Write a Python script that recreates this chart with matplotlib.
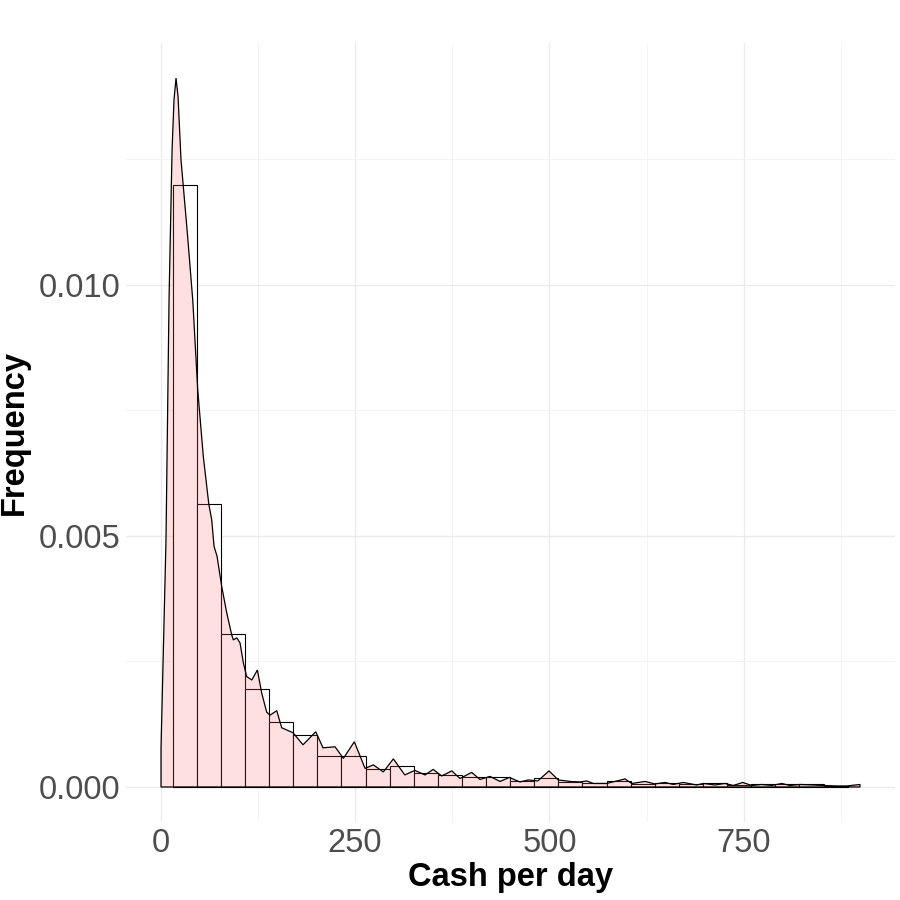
import numpy as np
import matplotlib
matplotlib.use("Agg")
import matplotlib.pyplot as plt

# histogram bins (cash per day) and their density heights
bin_edges = [15.5, 46.5, 77.5, 108.5, 139.5, 170.5, 201.5, 232.5, 263.5, 294.5,
             325.5, 356.5, 387.5, 418.5, 449.5, 480.5, 511.5, 542.5, 573.5, 604.5,
             635.5, 666.5, 697.5, 728.5, 759.5, 790.5, 821.5, 852.5, 883.5]
bin_heights = [0.01199, 0.00564, 0.00305, 0.00195, 0.00130, 0.00103, 0.00061,
               0.00062, 0.00035, 0.00042, 0.00027, 0.00023, 0.00019, 0.00019,
               0.00011, 0.00017, 0.00009, 0.00007, 0.00012, 0.00006, 0.00007,
               0.00005, 0.00007, 0.00004, 0.00005, 0.00005, 0.00005, 0.00002]

# kernel density curve
dens_x = [0.5, 6.9, 10.8, 14.7, 17.2, 19.8, 22.4, 26.2, 34.0, 41.3, 47.7, 54.9,
          61.9, 65.7, 68.7, 72.5, 78.6, 85.0, 91.4, 93.5, 97.9, 102.1, 106.4,
          110.7, 117.2, 124.4, 130.0, 136.4, 140.7, 149.3, 155.7, 170.3, 183.1,
          199.5, 208.8, 224.3, 235.0, 249.1, 262.9, 273.5, 286.4, 299.3, 314.0,
          327.0, 340.0, 350.5, 361.5, 374.4, 385.0, 400.0, 410.7, 423.6, 436.5,
          448.4, 462.0, 473.0, 485.0, 499.5, 511.4, 526.6, 539.4, 548.0, 556.5,
          573.7, 597.2, 605.8, 623.0, 635.8, 648.6, 659.3, 672.2, 689.4, 697.9,
          712.9, 725.7, 736.5, 748.6, 760.2, 773.0, 785.9, 798.7, 809.4, 822.3,
          839.4, 852.2, 869.5, 882.3, 899.4]
dens_y = [0.00078, 0.00492, 0.00970, 0.01269, 0.01369, 0.01412, 0.01375, 0.01249,
          0.01110, 0.00970, 0.00791, 0.00658, 0.00564, 0.00532, 0.00479, 0.00460,
          0.00399, 0.00347, 0.00303, 0.00293, 0.00297, 0.00287, 0.00247, 0.00220,
          0.00213, 0.00233, 0.00187, 0.00149, 0.00143, 0.00152, 0.00118, 0.00108,
          0.00084, 0.00110, 0.00078, 0.00080, 0.00057, 0.00090, 0.00037, 0.00044,
          0.00030, 0.00056, 0.00024, 0.00033, 0.00024, 0.00035, 0.00022, 0.00032,
          0.00017, 0.00029, 0.00015, 0.00021, 0.00011, 0.00019, 0.00010, 0.00014,
          0.00012, 0.00032, 0.00014, 0.00011, 0.00010, 0.00012, 0.00007, 0.00007,
          0.00016, 0.00007, 0.00011, 0.00006, 0.00009, 0.00005, 0.00009, 0.00004,
          0.00007, 0.00004, 0.00007, 0.00003, 0.00009, 0.00003, 0.00005, 0.00003,
          0.00007, 0.00003, 0.00005, 0.00004, 0.00003, 0.00002, 0.00002, 0.00005]

x_ticks = [0, 250, 500, 750]
x_minor = [125, 375, 625, 875]
y_ticks = [0.000, 0.005, 0.010]
y_minor = [0.0025, 0.0075, 0.0125]

plt.rcParams['font.family'] = ['Liberation Sans', 'DejaVu Sans']

fig = plt.figure(figsize=(9, 9), dpi=100)
ax = fig.add_axes([0.1396, 0.0862, 0.8545, 0.8664])

# grid like theme_minimal
for v in x_ticks:
    ax.axvline(v, color='#EBEBEB', lw=1.0, zorder=0)
for v in x_minor:
    ax.axvline(v, color='#F2F2F2', lw=0.6, zorder=0)
for v in y_ticks:
    ax.axhline(v, color='#EBEBEB', lw=1.0, zorder=0)
for v in y_minor:
    ax.axhline(v, color='#F2F2F2', lw=0.6, zorder=0)

lefts = np.array(bin_edges[:-1])
widths = np.diff(bin_edges)
ax.bar(lefts, bin_heights, width=widths, align='edge', facecolor='white',
       edgecolor='black', linewidth=0.8, zorder=2)

px = [dens_x[0]] + dens_x + [dens_x[-1]]
py = [0] + dens_y + [0]
ax.fill(px, py, facecolor=(1, 0.4, 0.4, 0.2), edgecolor='black', linewidth=0.9,
        zorder=3)

ax.set_xlim(-45, 944)
ax.set_ylim(-0.000706, 0.014826)
ax.set_xticks(x_ticks)
ax.set_xticklabels(['0', '250', '500', '750'])
ax.set_yticks(y_ticks)
ax.set_yticklabels(['0.000', '0.005', '0.010'])
ax.tick_params(length=0, labelsize=23.5, labelcolor='#4D4D4D', pad=4)
for s in ax.spines.values():
    s.set_visible(False)

ax.set_xlabel('Cash per day', fontsize=23.5, fontweight='bold', labelpad=2)
ax.set_ylabel('Frequency', fontsize=23.5, fontweight='bold', labelpad=6)

fig.savefig('out.png', dpi=100)
